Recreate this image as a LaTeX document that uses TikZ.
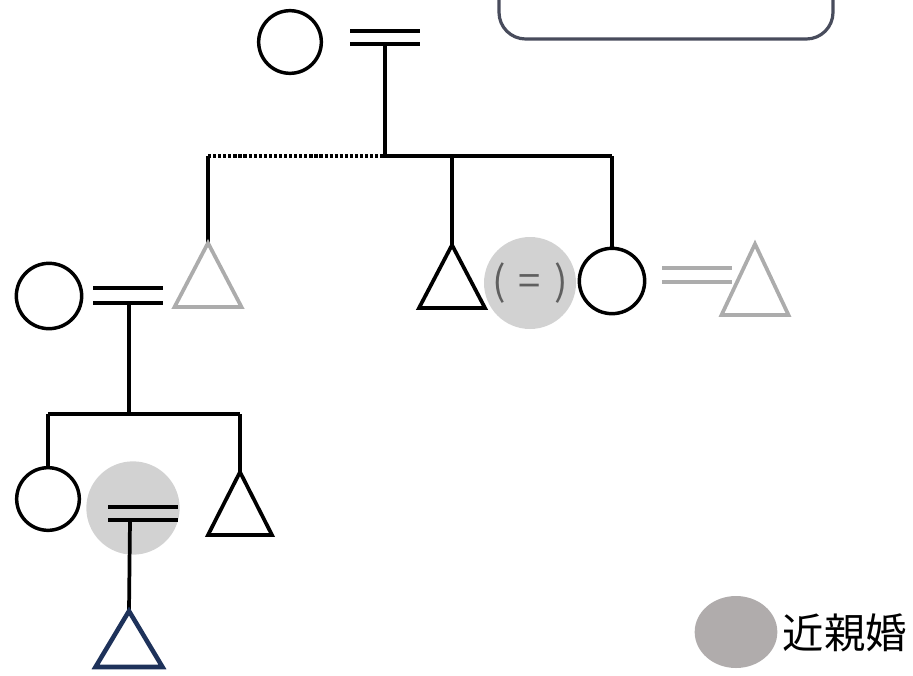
\documentclass[tikz,border=0pt]{standalone}
\usepackage{fontspec}
\usetikzlibrary{shapes.geometric}
\newfontfamily\cjk{Noto Sans CJK JP}
\definecolor{lightg}{RGB}{172,172,172}
\definecolor{hilite}{RGB}{210,210,210}
\definecolor{legendg}{RGB}{176,172,172}
\definecolor{navy}{RGB}{30,50,90}
\definecolor{boxc}{RGB}{72,76,92}
\definecolor{texg}{RGB}{95,95,95}
\begin{document}
\begin{tikzpicture}[x=0.75pt,y=-0.75pt,line width=2.8pt,
  female/.style={circle,draw,line width=2.6pt,minimum size=47pt,inner sep=0pt},
  halo/.style={circle,fill=hilite,minimum size=69pt,inner sep=0pt},
  link/.style={draw=black,line width=2.8pt},
  dots/.style={draw=black,line width=2.8pt,dash pattern=on 2.4pt off 1.4pt},
  trip/.style={draw=black,line width=2.8pt,line join=miter},
  greyline/.style={draw=lightg,line width=2.8pt}]
\useasboundingbox (0,0) rectangle (913,675);
% top box (cut off)
\begin{scope}
\clip (0,0) rectangle (913,675);
\draw[boxc,line width=2.4pt,rounded corners=20pt] (499,-40) rectangle (833,39);
\end{scope}
% highlight circles
\node[halo] (h1) at (530,283) {};
\node[halo,minimum size=70pt] (h2) at (133,508) {};
\node[font=\cjk\fontsize{30}{30}\selectfont,text=texg] (eqp) at (h1) {(\,\,=\,\,)};
% top couple
\node[female] (gm) at (290,42) {};
\draw[link] (350,31) -- (420,31);
\draw[link] (350,44) -- (420,44);
\coordinate (m1) at (385,44);
\coordinate (s1) at (385,156);
\coordinate (s1l) at (208,156);
\coordinate (s1m) at (452,156);
\coordinate (s1r) at (612,156);
\draw[link] (m1) -- (s1) -- (s1r);
\draw[dots] (s1l) -- (s1);
% children of top couple
\coordinate (t1) at (208,243);
\draw[link] (s1l) -- (t1);
\draw[lightg,line width=2.8pt] (t1) -- ++(-33.5,64) -- ++(67,0) -- cycle;
\coordinate (t2) at (452,245);
\draw[link] (s1m) -- (t2);
\draw[trip] (t2) -- ++(-33,63) -- ++(66,0) -- cycle;
\node[female,minimum size=49pt] (c2) at (612,281) {};
\draw[link] (s1r) -- (c2.north);
% grey spouse of c2
\draw[greyline] (662,268) -- (732,268);
\draw[greyline] (662,282) -- (732,282);
\coordinate (t5) at (755,244);
\draw[lightg,line width=2.8pt] (t5) -- ++(-33.5,71) -- ++(67,0) -- cycle;
% left family
\node[female,minimum size=49pt] (c1) at (49,296) {};
\draw[link] (93,288) -- (163,288);
\draw[link] (93,303) -- (163,303);
\coordinate (m2) at (129,303);
\coordinate (s2) at (129,414);
\coordinate (s2l) at (48,414);
\coordinate (s2r) at (240,414);
\draw[link] (m2) -- (s2);
\draw[link] (s2l) -- (s2r);
\node[female] (c3) at (48,499) {};
\draw[link] (s2l) -- (c3.north);
\coordinate (t3) at (240,472);
\draw[link] (s2r) -- (t3);
\draw[trip] (t3) -- ++(-32,63) -- ++(64,0) -- cycle;
% consanguineous marriage
\draw[link] (108,507) -- (178,507);
\draw[link] (108,520) -- (178,520);
\coordinate (m3) at (130,520);
\coordinate (t4) at (129,611);
\draw[link] (m3) -- (t4);
\draw[navy,line width=3.4pt,line join=miter] (t4) -- ++(-33.5,56) -- ++(67,0) -- cycle;
% legend
\node[ellipse,fill=legendg,minimum width=62pt,minimum height=54pt,inner sep=0pt] (lg) at (736,632) {};
\node[anchor=west,inner sep=0pt,font=\cjk\fontsize{31}{31}\selectfont] (lt) at (781,633) {近親婚};
\end{tikzpicture}
\end{document}
